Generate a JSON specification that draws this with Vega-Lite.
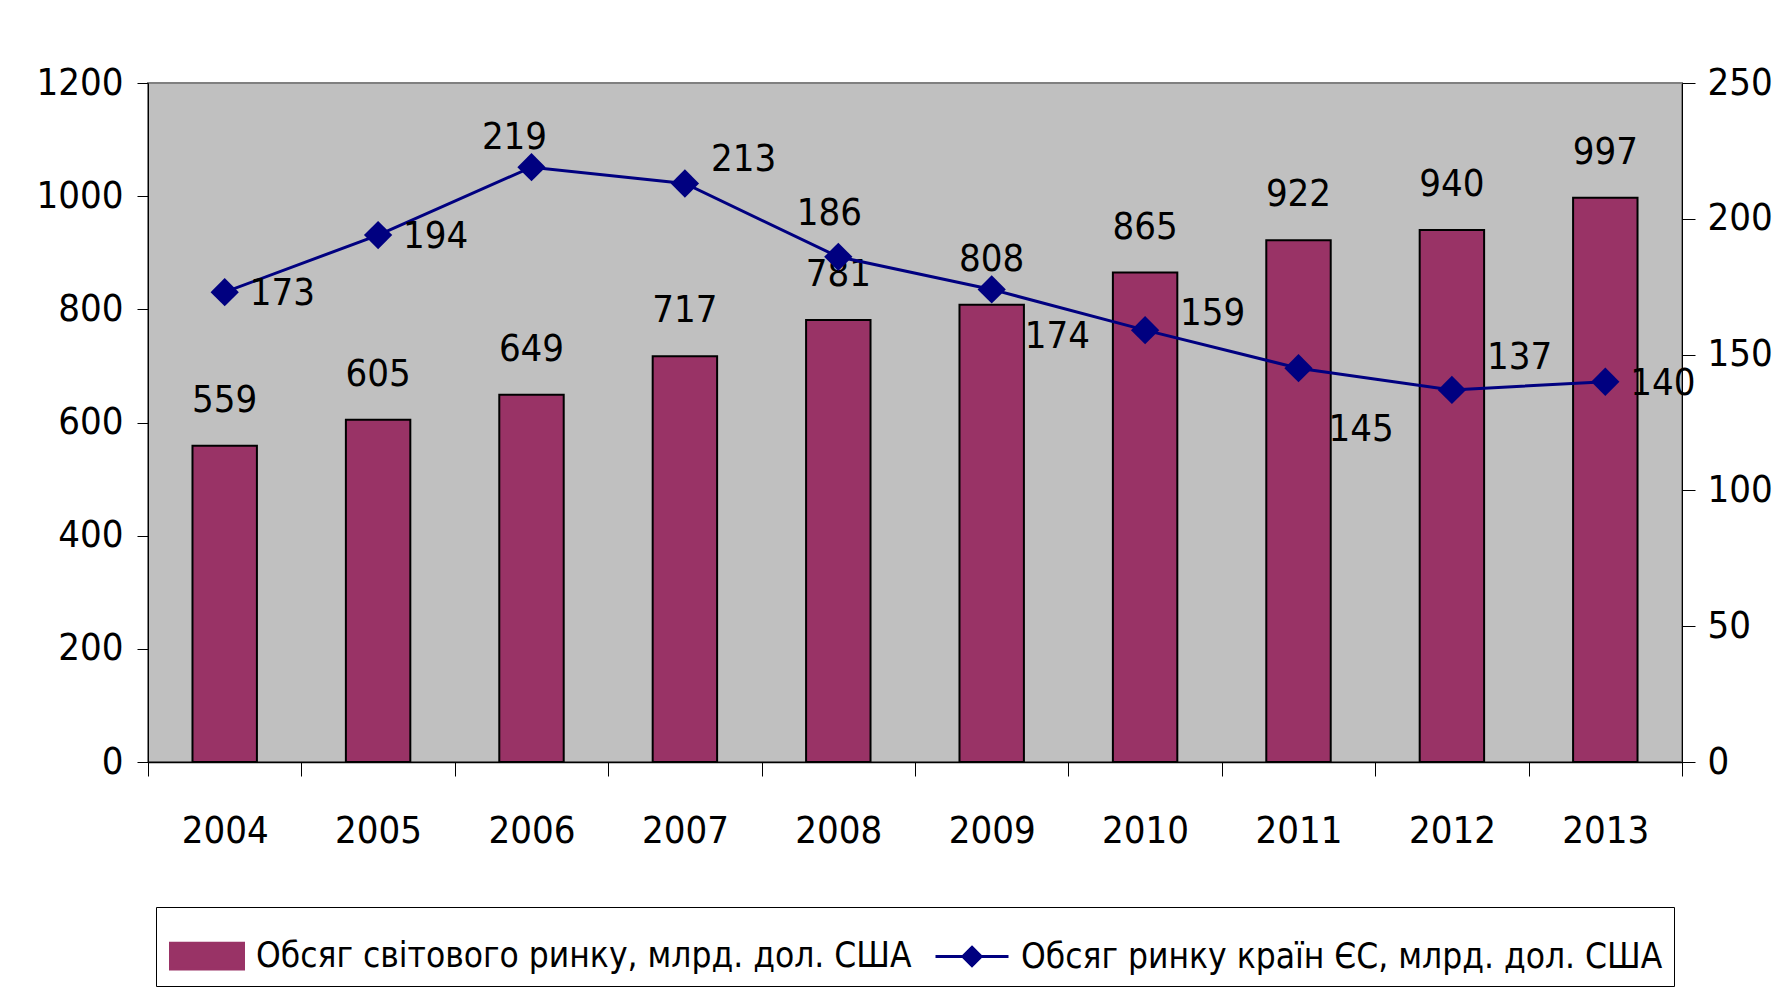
{
  "$schema": "https://vega.github.io/schema/vega-lite/v6.json",
  "width": 1534,
  "height": 679,
  "autosize": "none",
  "padding": {"left": 148, "top": 83, "right": 106, "bottom": 234},
  "background": "white",
  "config": {
    "view": {"fill": "#C0C0C0", "stroke": "#808080", "strokeWidth": 2},
    "font": "Liberation Sans Narrow, Arial Narrow, DejaVu Sans Condensed, sans-serif",
    "axis": {
      "labelFont": "Liberation Sans Narrow, Arial Narrow, DejaVu Sans Condensed, sans-serif",
      "labelFontSize": 38,
      "labelColor": "black",
      "domainColor": "black",
      "tickColor": "black",
      "grid": false,
      "title": null
    },
    "text": {"font": "Liberation Sans Narrow, Arial Narrow, DejaVu Sans Condensed, sans-serif", "fontSize": 38, "color": "black"}
  },
  "data": {
    "values": [
      {"year": "2004", "world": 559, "eu": 173},
      {"year": "2005", "world": 605, "eu": 194},
      {"year": "2006", "world": 649, "eu": 219},
      {"year": "2007", "world": 717, "eu": 213},
      {"year": "2008", "world": 781, "eu": 186},
      {"year": "2009", "world": 808, "eu": 174},
      {"year": "2010", "world": 865, "eu": 159},
      {"year": "2011", "world": 922, "eu": 145},
      {"year": "2012", "world": 940, "eu": 137},
      {"year": "2013", "world": 997, "eu": 140}
    ]
  },
  "encoding": {
    "x": {
      "field": "year",
      "type": "ordinal",
      "scale": {"paddingInner": 0, "paddingOuter": 0},
      "axis": {"labelAngle": 0, "tickBand": "extent", "tickSize": 14, "labelPadding": 36, "domainWidth": 1.5}
    }
  },
  "layer": [
    {
      "encoding": {
        "y": {
          "field": "world",
          "type": "quantitative",
          "scale": {"domain": [0, 1200]},
          "axis": {"values": [0, 200, 400, 600, 800, 1000, 1200], "format": "d", "tickSize": 11, "labelPadding": 14, "domainWidth": 1}
        }
      },
      "layer": [
        {
          "mark": {"type": "bar", "width": {"band": 0.42}, "stroke": "black", "strokeWidth": 2},
          "encoding": {
            "color": {
              "datum": "Обсяг світового ринку, млрд. дол. США",
              "type": "nominal",
              "scale": {
                "domain": ["Обсяг світового ринку, млрд. дол. США", "Обсяг ринку країн ЄС, млрд. дол. США"],
                "range": ["#993366", "#000080"]
              },
              "legend": {
                "orient": "none",
                "legendX": 8,
                "legendY": 824,
                "direction": "horizontal",
                "title": null,
                "labelFont": "Liberation Sans Narrow, Arial Narrow, DejaVu Sans Condensed, sans-serif",
                "labelFontSize": 35,
                "labelColor": "black",
                "labelLimit": 0,
                "labelOffset": 11,
                "columnPadding": 17,
                "symbolSize": 5329,
                "symbolOffset": 2,
                "strokeColor": "black",
                "fillColor": "white",
                "padding": 11,
                "encoding": {
                  "symbols": {
                    "shape": {"value": {"expr": "datum.index === 0 ? 'M-1,-0.35H1V0.35H-1Z' : 'M-1,0H1M0,-0.25L0.25,0L0,0.25L-0.25,0Z'"}},
                    "fill": {"value": {"expr": "datum.index === 0 ? '#993366' : '#000080'"}},
                    "stroke": {"value": {"expr": "datum.index === 0 ? 'black' : '#000080'"}},
                    "strokeWidth": {"value": 3},
                    "opacity": {"value": 1},
                    "fillOpacity": {"value": 1}
                  }
                }
              }
            }
          }
        },
        {
          "mark": {"type": "text", "baseline": "middle", "align": "center", "dy": -45},
          "encoding": {"text": {"field": "world", "type": "quantitative", "format": "d"}}
        }
      ]
    },
    {
      "encoding": {
        "y": {
          "field": "eu",
          "type": "quantitative",
          "scale": {"domain": [0, 250]},
          "axis": {"orient": "right", "values": [0, 50, 100, 150, 200, 250], "format": "d", "tickSize": 13, "labelPadding": 12, "domainWidth": 1}
        }
      },
      "layer": [
        {
          "mark": {"type": "line", "strokeWidth": 3},
          "encoding": {"color": {"datum": "Обсяг ринку країн ЄС, млрд. дол. США", "type": "nominal"}}
        },
        {
          "mark": {"type": "point", "shape": "diamond", "filled": true, "size": 800, "opacity": 1},
          "encoding": {"color": {"datum": "Обсяг ринку країн ЄС, млрд. дол. США", "type": "nominal"}}
        },
        {
          "transform": [{"filter": {"field": "year", "oneOf": ["2004", "2005", "2013"]}}],
          "mark": {"type": "text", "align": "left", "baseline": "middle", "dx": 25, "dy": 2},
          "encoding": {"text": {"field": "eu", "type": "quantitative"}}
        },
        {
          "transform": [{"filter": {"field": "year", "oneOf": ["2010"]}}],
          "mark": {"type": "text", "align": "left", "baseline": "middle", "dx": 35, "dy": -16},
          "encoding": {"text": {"field": "eu", "type": "quantitative"}}
        },
        {
          "transform": [{"filter": {"field": "year", "oneOf": ["2006"]}}],
          "mark": {"type": "text", "align": "center", "baseline": "middle", "dx": -17, "dy": -29},
          "encoding": {"text": {"field": "eu", "type": "quantitative"}}
        },
        {
          "transform": [{"filter": {"field": "year", "oneOf": ["2008"]}}],
          "mark": {"type": "text", "align": "center", "baseline": "middle", "dx": -9, "dy": -43},
          "encoding": {"text": {"field": "eu", "type": "quantitative"}}
        },
        {
          "transform": [{"filter": {"field": "year", "oneOf": ["2007"]}}],
          "mark": {"type": "text", "align": "left", "baseline": "middle", "dx": 26, "dy": -23},
          "encoding": {"text": {"field": "eu", "type": "quantitative"}}
        },
        {
          "transform": [{"filter": {"field": "year", "oneOf": ["2012"]}}],
          "mark": {"type": "text", "align": "left", "baseline": "middle", "dx": 35, "dy": -32},
          "encoding": {"text": {"field": "eu", "type": "quantitative"}}
        },
        {
          "transform": [{"filter": {"field": "year", "oneOf": ["2009"]}}],
          "mark": {"type": "text", "align": "left", "baseline": "middle", "dx": 33, "dy": 48},
          "encoding": {"text": {"field": "eu", "type": "quantitative"}}
        },
        {
          "transform": [{"filter": {"field": "year", "oneOf": ["2011"]}}],
          "mark": {"type": "text", "align": "left", "baseline": "middle", "dx": 30, "dy": 62},
          "encoding": {"text": {"field": "eu", "type": "quantitative"}}
        }
      ]
    }
  ],
  "resolve": {"scale": {"y": "independent"}}
}
